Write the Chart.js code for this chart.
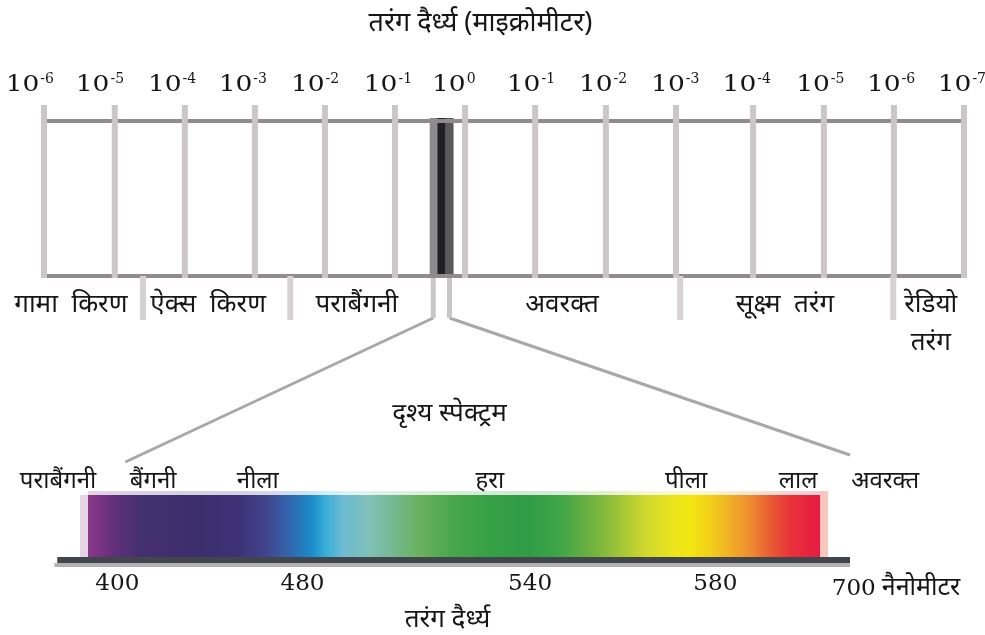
<!DOCTYPE html>
<html>
<head>
<meta charset="utf-8">
<script src="https://cdn.jsdelivr.net/npm/chart.js@4.4.1/dist/chart.umd.min.js"></script>
<style>
  html, body { margin: 0; padding: 0; background: #fff; }
  canvas { display: block; }
</style>
</head>
<body>
<canvas id="emChart" width="985" height="635"></canvas>
<script>
// ---- DATA ------------------------------------------------------------
// Top scale: decade ticks (position along scale, in decade steps) and exponents
const DECADE_TICKS  = [0, 1, 1.99, 2.98, 3.97, 4.96, 5.95, 6.94, 7.94, 8.93, 10.02, 11.02, 12.01, 13];
const DECADE_EXP    = [-6, -5, -4, -3, -2, -1, 0, -1, -2, -3, -4, -5, -6, -7];
const DECADE_LABELX = [-0.2, 0.79, 1.81, 2.81, 3.83, 4.86, 5.79, 6.88, 7.9, 8.92, 9.93, 10.97, 11.97, 12.97];

// Band names under the scale and the boundaries between them
const BAND_NAMES = ['गामा  किरण', 'ऐक्स  किरण', 'पराबैंगनी', 'अवरक्त', 'सूक्ष्म  तरंग', 'रेडियो|तरंग'];
const BAND_POS   = [0.38, 2.32, 4.42, 7.32, 10.47, 12.53];
const BAND_EDGES = [1.4, 3.48, 8.99, 12.0];

// Visible window on the top scale
const VISIBLE_FROM = 5.45;
const VISIBLE_TO   = 5.78;

// Visible spectrum: position along the bar (0-100 %) and colour
const SPEC_POS = [0, 1.6, 4, 7, 15, 20.5, 24, 27, 29, 30.8, 32.5, 35, 38.5, 42, 45.5, 50, 55, 60, 64.5, 68.5, 71.5, 75.5, 79, 82, 85, 87.5, 90.5, 93.2, 96, 100];
const SPEC_COL = ['#8b3a88', '#7a3482', '#5c2f78', '#45306f', '#3c2e6d', '#3e3276', '#41418a', '#3560a8', '#2478bb', '#1b90cc', '#3aaed8', '#6ebcd0', '#80c0b8', '#74b88c', '#68b15e', '#48a64a', '#36a045', '#2f9c46', '#3fa547', '#6cb140', '#90be3a', '#c8d530', '#e6e222', '#f2e812', '#f2cf18', '#f0b225', '#ee8c30', '#e85c32', '#e8323a', '#e81a44'];

// Colour names above the spectrum and wavelength labels below it
const COLOUR_NAMES = ['पराबैंगनी', 'बैंगनी', 'नीला', 'हरा', 'पीला', 'लाल', 'अवरक्त'];
const COLOUR_POS   = [-4.1, 8.9, 23.2, 54.9, 81.7, 97, 108.9];
const NM_LABELS    = ['400', '480', '540', '580'];
const NM_POS       = [4, 29.3, 60.4, 85.7];
const NM_END_LABEL = '700';
const NM_END_POS   = 101.6;
const NM_UNIT      = 'नैनोमीटर';

const TITLE_TOP    = 'तरंग दैर्ध्य (माइक्रोमीटर)';
const TITLE_VIS    = 'दृश्य स्पेक्ट्रम';
const TITLE_BOTTOM = 'तरंग दैर्ध्य';

// ---- LAYOUT ----------------------------------------------------------
const Y = {
  expBase: 91, tickTop: 105, boxTop: 121, boxBottom: 276, edgeBottom: 320,
  bandBase: 312, bandBase2: 350, zoomFoot: 318,
  visBase: 421, colBase: 488, specTop: 495, specBottom: 558, axis: 560,
  nmBase: 590, bottomBase: 627, titleBase: 31
};
const SERIF = "'DejaVu Serif', 'Liberation Serif', serif";
const DEVA = "'Noto Sans', 'Liberation Sans', sans-serif";

// Build line datasets with gaps between segments
function verticals(xs, y0, y1) {
  const pts = [];
  xs.forEach(x => { pts.push({x, y:y0}, {x, y:y1}, {x, y:null}); });
  return pts;
}

const datasets = [
  { data: verticals(DECADE_TICKS, Y.tickTop, Y.boxBottom + 2), borderColor:'#cbc6c8', borderWidth:6 },
  { data: verticals(BAND_EDGES, Y.boxBottom, Y.edgeBottom), borderColor:'#d6d2d3', borderWidth:6 },
  { data: [{x:-0.04, y:Y.boxTop}, {x:DECADE_TICKS[13], y:Y.boxTop}, {x:0, y:null},
           {x:-0.04, y:Y.boxBottom}, {x:DECADE_TICKS[13], y:Y.boxBottom}],
    borderColor:'#908b8f', borderWidth:4 },
  { data: verticals([VISIBLE_FROM + 0.05, VISIBLE_TO - 0.05], Y.boxBottom, Y.zoomFoot), borderColor:'#c9c6c7', borderWidth:5 },
  { xAxisID:'xs', data: [{x:-4.6, y:Y.axis + 5}, {x:104.1, y:Y.axis + 5}], borderColor:'#b4b1b3', borderWidth:4 },
  { xAxisID:'xs', data: [{x:-4.2, y:Y.axis}, {x:104.1, y:Y.axis}], borderColor:'#41464d', borderWidth:6 },
].map(d => Object.assign({ type:'line', xAxisID:'x', pointRadius:0, spanGaps:false, borderCapStyle:'butt', fill:false, tension:0 }, d));

const diagramPlugin = {
  id: 'diagram',
  beforeDatasetsDraw(chart) {
    const {ctx} = chart;
    const sx = chart.scales.x, ss = chart.scales.xs, sy = chart.scales.y;
    // visible strip on the top scale
    const x0 = sx.getPixelForValue(VISIBLE_FROM), x1 = sx.getPixelForValue(VISIBLE_TO);
    const w3 = (x1 - x0) / 3;
    const yT = sy.getPixelForValue(Y.boxTop - 3), yB = sy.getPixelForValue(Y.boxBottom + 2);
    ctx.save();
    ['#8a8b8f', '#222022', '#58585b'].forEach((c, i) => {
      ctx.fillStyle = c;
      ctx.fillRect(x0 + i * w3, yT, w3 + 0.5, yB - yT);
    });
    // spectrum bar
    const s0 = ss.getPixelForValue(0), s1 = ss.getPixelForValue(100);
    const grad = ctx.createLinearGradient(s0, 0, s1, 0);
    SPEC_POS.forEach((p, i) => grad.addColorStop(p / 100, SPEC_COL[i]));
    const st = sy.getPixelForValue(Y.specTop), sb = sy.getPixelForValue(Y.specBottom);
    ctx.fillStyle = grad;
    ctx.fillRect(s0, st, s1 - s0, sb - st);
    ctx.globalAlpha = 0.22;
    ctx.fillRect(s0, st - 4, s1 - s0, 4);
    ctx.fillStyle = '#8b3a88';
    ctx.fillRect(s0 - 8, st, 8, sb - st);
    ctx.globalAlpha = 0.32;
    ctx.fillStyle = '#e8502a';
    ctx.fillRect(s1, st - 4, 8, sb - st + 4);
    ctx.globalAlpha = 1;
    // zoom connectors from the visible strip down to the spectrum
    ctx.strokeStyle = '#a9a8a9';
    ctx.lineWidth = 3;
    ctx.beginPath();
    ctx.moveTo(sx.getPixelForValue(VISIBLE_FROM + 0.05), sy.getPixelForValue(Y.zoomFoot));
    ctx.lineTo(ss.getPixelForValue(5.1), sy.getPixelForValue(462));
    ctx.moveTo(sx.getPixelForValue(VISIBLE_TO - 0.05), sy.getPixelForValue(Y.zoomFoot));
    ctx.lineTo(ss.getPixelForValue(104.1), sy.getPixelForValue(455));
    ctx.stroke();
    ctx.restore();
  },
  afterDraw(chart) {
    const {ctx} = chart;
    const sx = chart.scales.x, ss = chart.scales.xs, sy = chart.scales.y;
    const mid = (chart.chartArea.left + chart.chartArea.right) / 2;
    ctx.save();
    ctx.fillStyle = '#161616';
    ctx.textBaseline = 'alphabetic';

    // horizontally stretched serif text (numbers)
    function serif(text, x, y, size, align, stretch) {
      const k = stretch || 1.05;
      ctx.save();
      ctx.font = size + 'px ' + SERIF;
      const w = ctx.measureText(text).width * k;
      const left = align === 'left' ? x : x - w / 2;
      ctx.translate(left, y);
      ctx.scale(k, 1);
      ctx.textAlign = 'left';
      ctx.fillText(text, 0, 0);
      ctx.restore();
      return w;
    }
    function deva(text, x, y, size, align) {
      ctx.font = size + 'px ' + DEVA;
      ctx.textAlign = align || 'center';
      ctx.fillText(text, x, y);
    }

    // exponent labels: "10" with a small superscript
    DECADE_EXP.forEach((e, i) => {
      ctx.font = '23px ' + SERIF;
      const base = ctx.measureText('10').width * 1.15;
      const supText = e === 0 ? '0' : '-' + Math.abs(e);
      ctx.font = '14px ' + SERIF;
      const sw = ctx.measureText(supText).width;
      const total = base + sw + 1;
      const left = sx.getPixelForValue(DECADE_LABELX[i]) - total / 2;
      serif('10', left, Y.expBase, 23, 'left', 1.15);
      ctx.font = '14px ' + SERIF;
      ctx.textAlign = 'left';
      ctx.fillText(supText, left + base + 1, Y.expBase - 8);
    });

    // band names
    BAND_NAMES.forEach((n, i) => {
      const x = sx.getPixelForValue(BAND_POS[i]);
      const parts = n.split('|');
      deva(parts[0], x, sy.getPixelForValue(Y.bandBase), 26);
      if (parts[1]) deva(parts[1], x, sy.getPixelForValue(Y.bandBase2), 26);
    });

    // titles
    deva(TITLE_TOP, mid - 12, Y.titleBase, 27);
    deva(TITLE_VIS, mid - 43, sy.getPixelForValue(Y.visBase), 26);
    deva(TITLE_BOTTOM, mid - 45, sy.getPixelForValue(Y.bottomBase), 26);

    // colour names
    COLOUR_NAMES.forEach((n, i) => deva(n, ss.getPixelForValue(COLOUR_POS[i]), sy.getPixelForValue(Y.colBase), 24));

    // wavelength labels
    NM_LABELS.forEach((n, i) => serif(n, ss.getPixelForValue(NM_POS[i]), sy.getPixelForValue(Y.nmBase), 22));
    const ex = ss.getPixelForValue(NM_END_POS);
    const w = serif(NM_END_LABEL, ex, sy.getPixelForValue(Y.nmBase + 5), 22, 'left');
    deva(NM_UNIT, ex + w + 6, sy.getPixelForValue(Y.nmBase + 5), 25, 'left');
    ctx.restore();
  }
};

// x: decade steps so that tick 0 -> 44px and tick 13 -> 964px
const PX_PER_DECADE = 920 / 13;
new Chart(document.getElementById('emChart'), {
  type: 'line',
  data: { datasets },
  options: {
    responsive: false,
    animation: false,
    layout: { padding: 0 },
    plugins: { legend: { display: false }, tooltip: { enabled: false } },
    scales: {
      x:  { type:'linear', display:false, min: -44 / PX_PER_DECADE, max: (985 - 44) / PX_PER_DECADE },
      xs: { type:'linear', display:false, min: -88 / 7.32, max: (985 - 88) / 7.32 },
      y:  { type:'linear', display:false, min: 0, max: 635, reverse: true }
    }
  },
  plugins: [diagramPlugin]
});
</script>
</body>
</html>
